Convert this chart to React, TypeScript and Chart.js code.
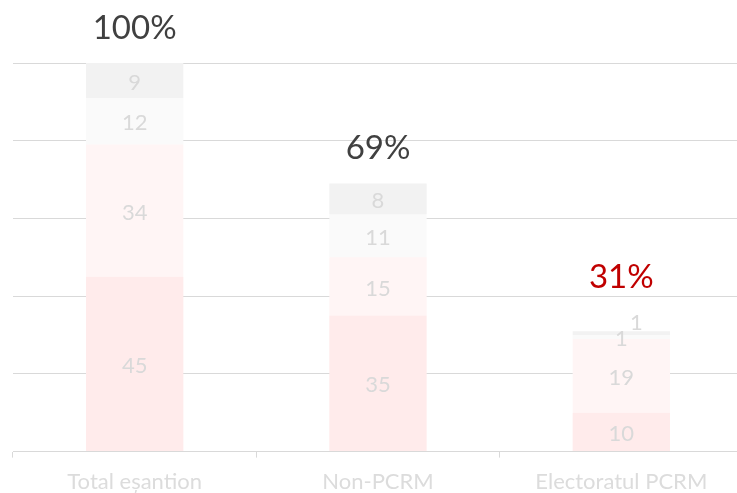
import React, { useEffect, useRef } from "react";
import { Chart, registerables } from "chart.js";

Chart.register(...registerables);

const categories = ["Total eșantion", "Non-PCRM", "Electoratul PCRM"];
const series1 = [45, 35, 10];
const series2 = [34, 15, 19];
const series3 = [12, 11, 1];
const series4 = [9, 8, 1];
const totalLabels = ["100%", "69%", "31%"];
const totalValues = [100, 69, 31];

const FONT = "Lato";

const labelsPlugin = {
  id: "valueLabels",
  afterDatasetsDraw(chart: any) {
    const { ctx } = chart;
    const yScale = chart.scales.y;
    ctx.save();
    ctx.textAlign = "center";
    ctx.textBaseline = "middle";
    ctx.font = `22px ${FONT}`;
    ctx.fillStyle = "#D9D9D9";
    chart.data.datasets.forEach((ds: any, di: number) => {
      const meta = chart.getDatasetMeta(di);
      meta.data.forEach((bar: any, i: number) => {
        let x = bar.x;
        let y = (bar.y + bar.base) / 2 + 2;
        if (di === 3 && i === 2) {
          x += 15;
          y -= 12;
        }
        ctx.fillText(String(ds.data[i]), x, y);
      });
    });
    const offsets = [35, 35, 54];
    const colors = ["#404040", "#404040", "#C00000"];
    ctx.font = `33px ${FONT}`;
    const meta0 = chart.getDatasetMeta(0);
    totalLabels.forEach((t, i) => {
      const x = meta0.data[i].x;
      const y = yScale.getPixelForValue(totalValues[i]) - offsets[i];
      ctx.fillStyle = colors[i];
      ctx.fillText(t, x, y);
    });
    ctx.restore();
  },
};

export default function App() {
  const ref = useRef<HTMLCanvasElement>(null);
  useEffect(() => {
    if (!ref.current) return;
    const mk = (label: string, data: number[], color: string) => ({
      label,
      data,
      backgroundColor: color,
      borderWidth: 0,
      categoryPercentage: 1,
      barPercentage: 0.4,
    });
    const chart = new Chart(ref.current, {
      type: "bar",
      data: {
        labels: categories,
        datasets: [
          mk("s1", series1, "#FFEBEB"),
          mk("s2", series2, "#FFF5F5"),
          mk("s3", series3, "#FAFAFA"),
          mk("s4", series4, "#F2F2F2"),
        ],
      },
      options: {
        animation: false,
        responsive: false,
        maintainAspectRatio: false,
        layout: { padding: { left: 13, right: 7, top: 63, bottom: 1 } },
        plugins: { legend: { display: false }, tooltip: { enabled: false } },
        scales: {
          x: {
            stacked: true,
            grid: {
              offset: true,
              drawOnChartArea: false,
              drawTicks: true,
              tickLength: 6,
              color: "#D9D9D9",
            },
            border: { display: true, color: "#D9D9D9", width: 1 },
            ticks: {
              color: "#DCDCDC",
              font: { family: FONT, size: 22 },
              padding: 11,
            },
          },
          y: {
            stacked: true,
            min: 0,
            max: 100,
            display: true,
            ticks: { display: false, stepSize: 20 },
            grid: { color: "#D9D9D9", drawTicks: false, lineWidth: 1 },
            border: { display: false },
          },
        },
      },
      plugins: [labelsPlugin],
    });
    return () => chart.destroy();
  }, []);
  return (
    <div
      style={{
        position: "fixed",
        left: 0,
        top: 0,
        width: 737,
        height: 493,
        overflow: "hidden",
        background: "#fff",
      }}
    >
      <canvas ref={ref} width={750} height={507} style={{ display: "block" }} />
    </div>
  );
}
